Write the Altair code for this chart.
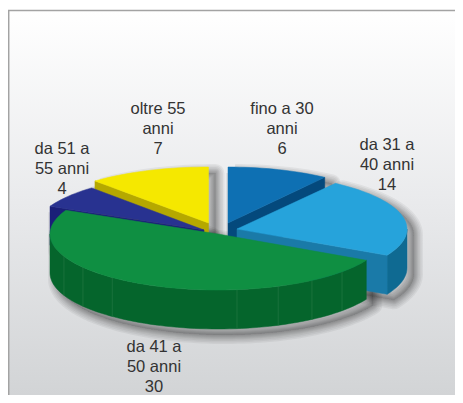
import math
import altair as alt
import pandas as pd

# --- chart values
labels = ["fino a 30 anni", "da 31 a 40 anni", "da 41 a 50 anni", "da 51 a 55 anni", "oltre 55 anni"]
values = [6, 14, 30, 4, 7]
label_lines = ["fino a 30\nanni\n6", "da 31 a\n40 anni\n14", "da 41 a\n50 anni\n30", "da 51 a\n55 anni\n4", "oltre 55\nanni\n7"]

# --- colours
top_colors = ["#0e70b3", "#26a3db", "#0f8f42", "#283290", "#f5e800"]
cut_colors = ["#04497c", "#1a7aa8", "#05652c", "#1a1f78", "#b5a800"]
side_colors = ["#04497c", "#0f6a92", "#05652c", "#1a1f78", "#b5a800"]

# --- layout of the exploded 3D pie, in page pixels
tip_x = [228, 237, 218, 204, 208.5]
tip_y = [223, 229, 234, 230, 223]
rad_x = [167, 170, 168, 170, 172]
rad_y = 56
depth = 39
label_x = [282, 387, 154, 62, 158]
label_y = [100.5, 136.5, 338.5, 140.5, 100.5]
seam_angles = [132.4, 146, 159, 173.5, 219, 233.5, 246.5]

W, H = 447, 387
xs = alt.Scale(domain=[8, 455], range=[0, W], nice=False, zero=False)
ys = alt.Scale(domain=[395, 8], range=[H, 0], nice=False, zero=False)

total = sum(values)
ends = []
run = 0
for v in values:
    ends.append((run * 360 / total, (run + v) * 360 / total))
    run += v


def pt(i, a, dy=0):
    r = math.radians(a)
    return (tip_x[i] + rad_x[i] * math.sin(r), tip_y[i] - rad_y * math.cos(r) + dy)


def arc(i, a0, a1, dy=0):
    n = max(2, int(abs(a1 - a0) / 2) + 2)
    return [pt(i, a0 + (a1 - a0) * k / (n - 1), dy) for k in range(n)]


def poly(points, fill, stroke=None):
    pts = list(points) + [points[0]]
    df = pd.DataFrame({"x": [p[0] for p in pts], "y": [p[1] for p in pts], "i": range(len(pts))})
    return alt.Chart(df).mark_line(fill=fill, stroke=stroke or fill, strokeWidth=0.5, interpolate="linear").encode(
        x=alt.X("x:Q", scale=xs, axis=None),
        y=alt.Y("y:Q", scale=ys, axis=None),
        order="i:Q",
    )


def hull(points):
    p = sorted(set(points))
    def half(seq):
        out = []
        for q in seq:
            while len(out) > 1 and (out[-1][0]-out[-2][0])*(q[1]-out[-2][1]) - (out[-1][1]-out[-2][1])*(q[0]-out[-2][0]) <= 0:
                out.pop()
            out.append(q)
        return out[:-1]
    return half(p) + half(p[::-1])


def top(i):
    a0, a1 = ends[i]
    return [(tip_x[i], tip_y[i])] + arc(i, a0, a1)


def cut(i, a):
    e = pt(i, a)
    return [(tip_x[i], tip_y[i]), e, (e[0], e[1] + depth), (tip_x[i], tip_y[i] + depth)]


def outer(i, a0, a1):
    return arc(i, a0, a1) + arc(i, a1, a0, depth)


# background and frame
bg_df = pd.DataFrame({"x": [8], "x2": [455], "y": [10], "y2": [395]})
bg = alt.Chart(bg_df).mark_rect(
    fill=alt.Gradient(gradient="linear", x1=0, x2=0, y1=0, y2=1,
                      stops=[alt.GradientStop(color="#ffffff", offset=0),
                             alt.GradientStop(color="#e9eaec", offset=0.5),
                             alt.GradientStop(color="#d2d4d6", offset=1)])
).encode(x=alt.X("x:Q", scale=xs, axis=None), x2="x2:Q", y=alt.Y("y:Q", scale=ys, axis=None), y2="y2:Q")
frame_top = alt.Chart(pd.DataFrame({"x": [8], "x2": [455], "y": [10.5]})).mark_rule(color="#a3a3a3", strokeWidth=1.5).encode(
    x=alt.X("x:Q", scale=xs, axis=None), x2="x2:Q", y=alt.Y("y:Q", scale=ys, axis=None))
frame_left = alt.Chart(pd.DataFrame({"x": [8.7], "y": [10], "y2": [395]})).mark_rule(color="#a3a3a3", strokeWidth=1.5).encode(
    x=alt.X("x:Q", scale=xs, axis=None), y=alt.Y("y:Q", scale=ys, axis=None), y2="y2:Q")

# soft drop shadow: stacked translucent strokes round each slice's outline
rows = []
for i in range(len(values)):
    h = hull(top(i) + [(p[0], p[1] + depth) for p in top(i)])
    h = h + [h[0]]
    for k, p in enumerate(h):
        rows.append({"x": p[0] + 7, "y": p[1] + 6, "i": k, "s": i})
shadow_df = pd.DataFrame(rows)
shadows = [
    alt.Chart(shadow_df).mark_line(fill="#000000", fillOpacity=0.012, stroke="#000000", strokeOpacity=0.05,
                                   strokeWidth=w, strokeJoin="round", interpolate="linear").encode(
        x=alt.X("x:Q", scale=xs, axis=None), y=alt.Y("y:Q", scale=ys, axis=None),
        order="i:Q", detail="s:N")
    for w in [18, 15, 12, 9, 7, 5, 3, 1]
]

layers = [bg, frame_top, frame_left] + shadows

# yellow, blue, navy, light blue, green: back to front
layers += [poly(cut(4, ends[4][0]), cut_colors[4]), poly(top(4), top_colors[4])]
layers += [poly(cut(0, ends[0][1]), cut_colors[0]), poly(top(0), top_colors[0])]
layers += [poly(cut(3, ends[3][0]), cut_colors[3]), poly(top(3), top_colors[3])]
layers += [poly(outer(1, 90, ends[1][1]), side_colors[1]), poly(cut(1, ends[1][1]), cut_colors[1]), poly(top(1), top_colors[1])]
layers += [poly(outer(2, ends[2][0], 270), side_colors[2])]

seam_rows = []
for s, a in enumerate(seam_angles):
    p = pt(2, a)
    seam_rows += [{"x": p[0], "y": p[1], "s": s}, {"x": p[0], "y": p[1] + depth, "s": s}]
layers.append(alt.Chart(pd.DataFrame(seam_rows)).mark_line(color="#1f7540", strokeWidth=0.8).encode(
    x=alt.X("x:Q", scale=xs, axis=None), y=alt.Y("y:Q", scale=ys, axis=None), detail="s:N"))
layers.append(poly(top(2), top_colors[2]))

text_df = pd.DataFrame({"t": label_lines, "x": label_x, "y": label_y, "name": labels})
layers.append(alt.Chart(text_df).mark_text(
    font="Liberation Sans", fontSize=16.5, color="#333333", lineBreak="\n", lineHeight=20,
    align="center", baseline="top").encode(
    x=alt.X("x:Q", scale=xs, axis=None), y=alt.Y("y:Q", scale=ys, axis=None), text="t:N"))

chart = alt.layer(*layers).properties(width=W, height=H, padding=0, background="#ffffff",
                                      autosize=alt.AutoSizeParams(type="none")).configure_view(stroke=None)
chart.save("out.html", embed_options={"renderer": "svg", "actions": False})
